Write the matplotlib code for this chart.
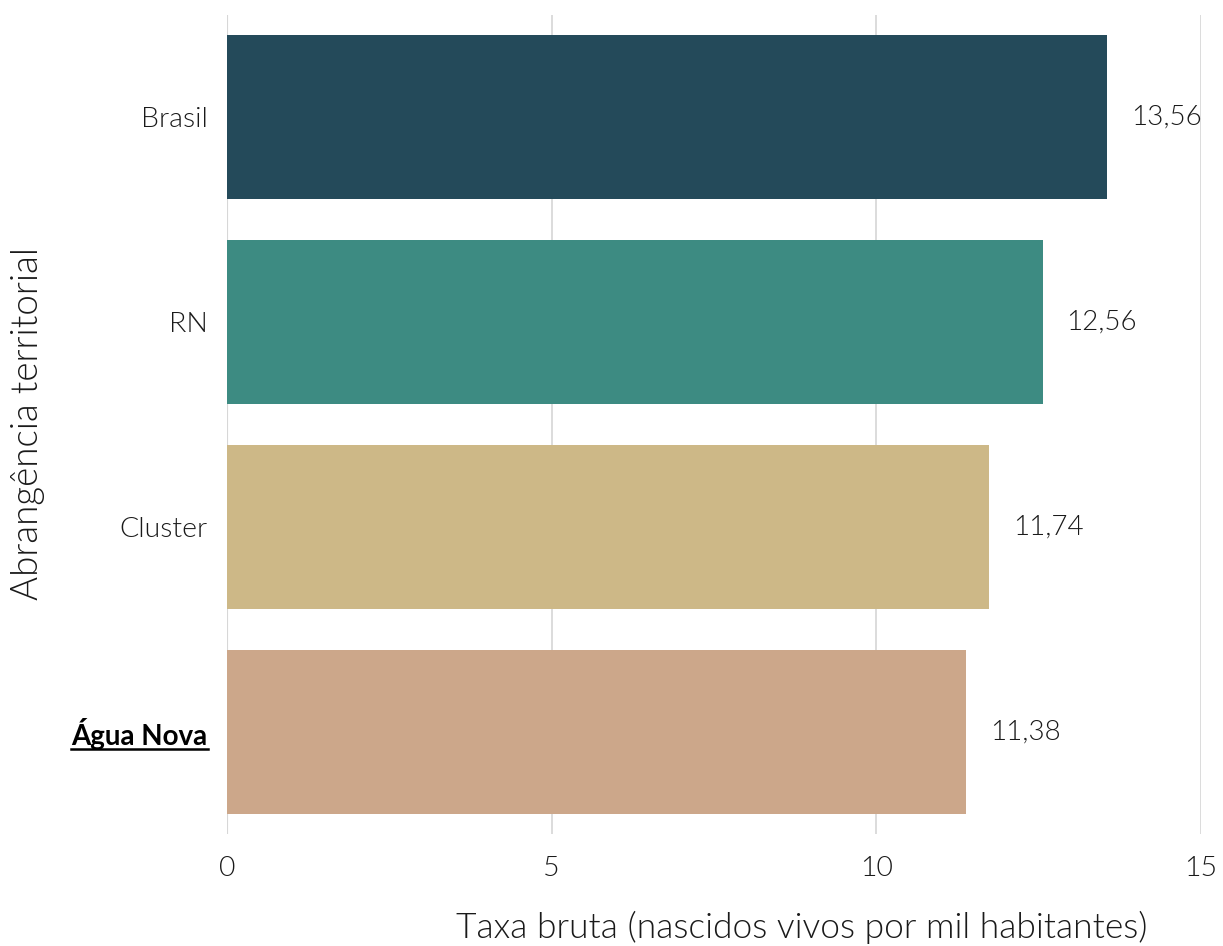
import matplotlib
matplotlib.use("Agg")
import matplotlib.pyplot as plt
from matplotlib.lines import Line2D

categories = ["Brasil", "RN", "Cluster", "Água Nova"]
values = [13.56, 12.56, 11.74, 11.38]
labels = ["13,56", "12,56", "11,74", "11,38"]
colors = ["#244A5A", "#3D8B82", "#CDB887", "#CCA78A"]
xticks = [0, 5, 10, 15]

plt.rcParams['font.family'] = ['Lato', 'DejaVu Sans']
TXT = '#1a1a1a'
W = 300

fig = plt.figure(figsize=(12.23, 9.46), dpi=100)
ax = fig.add_axes([227/1223, 1-834/946, (1201-227)/1223, (834-15)/946])

ypos = list(range(len(categories)))
ax.barh(ypos, values, height=0.8, color=colors, zorder=2)
ax.set_ylim(len(categories)-0.5, -0.5)
ax.set_xlim(0, 15)

for y, v, lab in zip(ypos, values, labels):
    ax.annotate(lab, (v, y), xytext=(24, 0), textcoords='offset pixels',
                ha='left', va='center', fontsize=20, fontweight=W, color=TXT)

ax.set_xticks(xticks)
ax.set_xticklabels([str(t) for t in xticks], fontsize=20.5, fontweight=W, color=TXT)
ax.set_yticks(ypos)
ax.set_yticklabels(categories, fontsize=20.5, fontweight=W, color=TXT)
ax.tick_params(axis='both', length=0)
ax.tick_params(axis='x', pad=16)
ax.tick_params(axis='y', pad=14)

tl = ax.get_yticklabels()[-1]
tl.set_fontweight('bold')
tl.set_color('black')
tl.set_fontsize(20)

ax.grid(axis='x', color='#d9d9d9', linewidth=1.3, zorder=0)
ax.grid(axis='y', visible=False)
for s in ax.spines.values():
    s.set_visible(False)
ax.axvline(0, color='#c8c8c8', linewidth=1.5, zorder=1)

fig.text(28/1223, 1-424/946, "Abrangência territorial", rotation=90, ha='center', va='center',
         fontsize=26.5, fontweight=W, color=TXT)
fig.text(802/1223, 1-927/946, "Taxa bruta (nascidos vivos por mil habitantes)", ha='center', va='center',
         fontsize=25.5, fontweight=W, color=TXT)

fig.canvas.draw()
r = fig.canvas.get_renderer()
bb = tl.get_window_extent(renderer=r)
yline = bb.y0 + 1
fig.add_artist(Line2D([bb.x0/fig.bbox.width, bb.x1/fig.bbox.width],
                      [yline/fig.bbox.height, yline/fig.bbox.height],
                      color='black', linewidth=1.8, transform=fig.transFigure))

fig.savefig("out.png", dpi=100)
